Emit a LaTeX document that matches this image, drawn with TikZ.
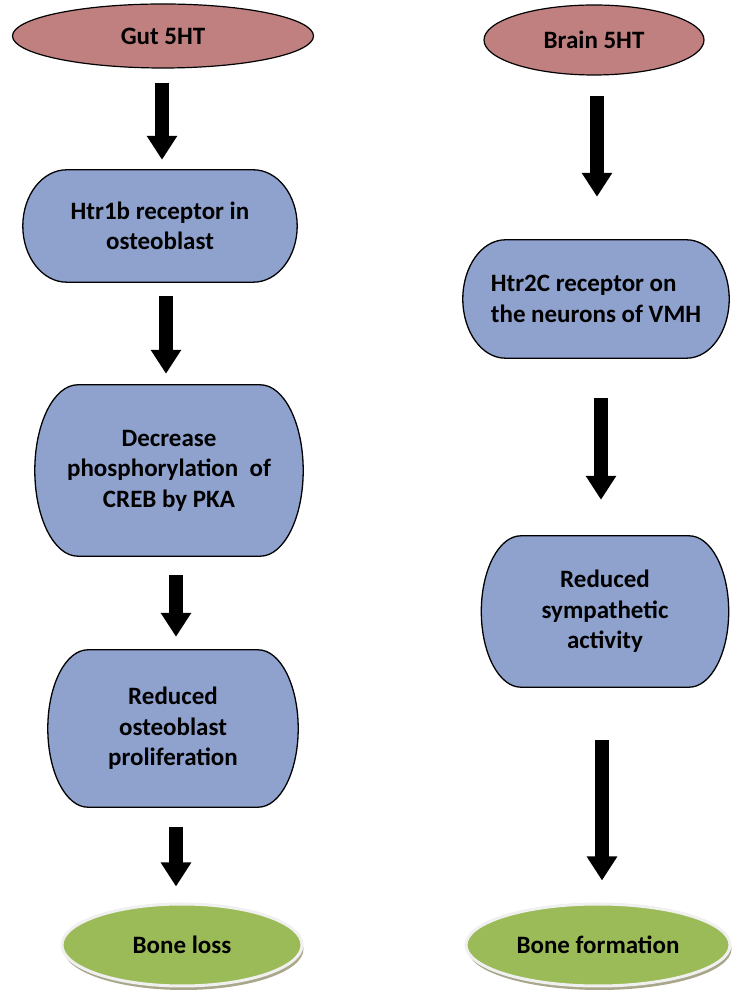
\documentclass[tikz,border=0pt]{standalone}
\usepackage{fontspec}
\setmainfont{Carlito}
\usetikzlibrary{shapes.geometric, arrows.meta, calc, backgrounds, shadows}

\definecolor{pinkfill}{RGB}{192,128,128}
\definecolor{bluefill}{RGB}{143,162,206}
\definecolor{greenfill}{RGB}{155,187,89}

\tikzset{
	txt/.style={font=\bfseries\fontsize{25}{30.5}\selectfont, inner sep=0pt},
	source/.style={txt, ellipse, fill=pinkfill, draw=black, line width=1.2pt},
	boxtext/.style={txt, align=center},
	result/.style={txt, ellipse, fill=greenfill, draw=gray!12, line width=3pt,
		drop shadow={shadow xshift=1.5pt, shadow yshift=-4pt, fill=black!40!olive, opacity=0.55}},
	fat/.style={line width=14pt, -{Triangle[width=29pt, length=24pt]}},
	termbox/.style={fill=bluefill, draw=black, line width=1.3pt}
}

% terminator outline round a named node
\newcommand{\termline}[1]{%
	\filldraw[termbox] let \p1=(#1.north west), \p2=(#1.south east),
		\n1={0.16*(\x2-\x1)}, \n2={(\y1-\y2)/2} in
		(\x1+\n1,\y1) -- (\x2-\n1,\y1)
		arc[start angle=90, end angle=-90, x radius=\n1, y radius=\n2]
		-- (\x1+\n1,\y2)
		arc[start angle=270, end angle=90, x radius=\n1, y radius=\n2] -- cycle;}

\begin{document}
\begin{tikzpicture}[x=1pt, y=1pt]
	\useasboundingbox (0,0) rectangle (733,999);
	% gut side
	\node[source, minimum width=301pt, minimum height=64pt] (gut) at (163,963) {Gut 5HT};
	\node[boxtext, minimum width=274pt, minimum height=112pt] (b1) at (160,773) {Htr1b receptor in\\osteoblast};
	\node[boxtext, minimum width=268pt, minimum height=171pt] (b2) at (169,528.5) {Decrease\\phosphorylation\ \ of\\CREB by PKA};
	\node[boxtext, minimum width=250pt, minimum height=157pt] (b3) at (173,270.5) {Reduced\\osteoblast\\proliferation};
	\node[result, minimum width=240pt, minimum height=82pt] (loss) at (182,54) {Bone loss};
	% brain side
	\node[source, minimum width=220pt, minimum height=70pt] (brain) at (594,959) {Brain 5HT};
	\node[boxtext, align=left, minimum width=266pt, minimum height=118pt] (r1) at (596,700) {Htr2C receptor on\\the neurons of VMH};
	\node[boxtext, minimum width=247pt, minimum height=151pt] (r2) at (605,387.5) {Reduced\\sympathetic\\activity};
	\node[result, minimum width=264pt, minimum height=82pt] (form) at (598,54) {Bone formation};

	\begin{scope}[on background layer]
		\foreach \b in {b1,b2,b3,r1,r2} {\termline{\b}}
	\end{scope}

	\draw[fat] ($(gut.south)+(-1,-14)$) -- ($(b1.north)+(2,10)$);
	\draw[fat] ($(b1.south)+(6,-14)$) -- ($(b2.north)+(-3,11)$);
	\draw[fat] ($(b2.south)+(7,-19)$) -- ($(b3.north)+(3,13)$);
	\draw[fat] ($(b3.south)+(3,-20)$) -- ($(loss.north)+(-6,16)$);

	\draw[fat] ($(brain.south)+(3,-20)$) -- ($(r1.north)+(1,43)$);
	\draw[fat] ($(r1.south)+(5,-40)$) -- ($(r2.north)+(-4,36)$);
	\draw[fat] ($(r2.south)+(-3,-53)$) -- ($(form.north)+(4,22)$);
\end{tikzpicture}
\end{document}
